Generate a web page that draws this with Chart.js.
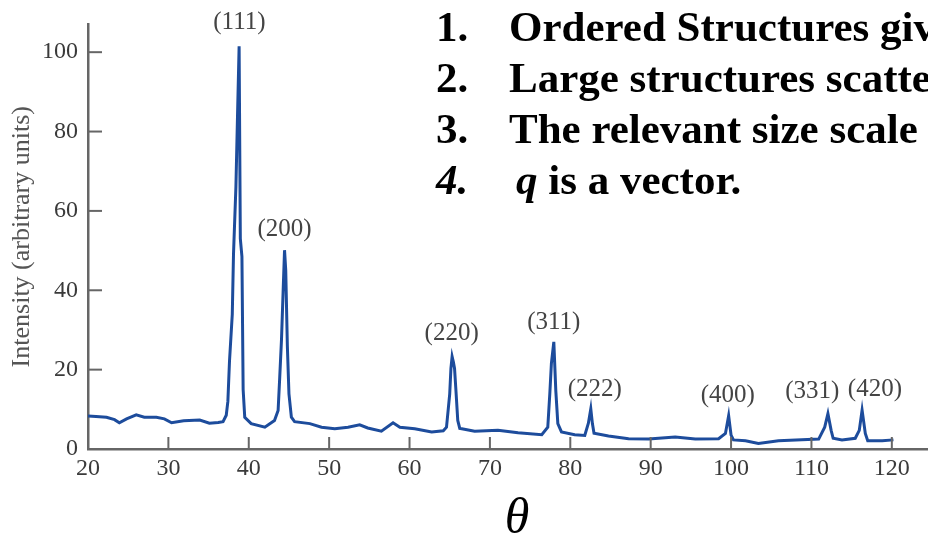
<!DOCTYPE html>
<html>
<head>
<meta charset="utf-8">
<script src="https://cdn.jsdelivr.net/npm/chart.js@4.4.1/dist/chart.umd.min.js"></script>
<style>
  html, body { margin: 0; padding: 0; background: #fff; }
  #wrap { position: relative; width: 928px; height: 536px; overflow: hidden; }
  #c { position: absolute; left: 0; top: 0; }
  #notes { position: absolute; left: 0; top: 1px; width: 928px; font: bold 43px "Liberation Serif", "Times New Roman", serif; color: #000; line-height: 51px; }
  #notes .ln { position: relative; height: 51px; white-space: nowrap; }
  #notes .num { position: absolute; left: 436px; }
  #notes .txt { position: absolute; left: 509px; }
  #theta { position: absolute; left: 467px; top: 491px; width: 100px; text-align: center; font: italic 50px "Liberation Serif", "Times New Roman", serif; line-height: 50px; color: #000; }
</style>
</head>
<body>
<div id="wrap">
  <canvas id="c" width="928" height="536"></canvas>
  <div id="notes">
    <div class="ln"><span class="num">1.</span><span class="txt">Ordered Structures give</span></div>
    <div class="ln"><span class="num">2.</span><span class="txt">Large structures scatter</span></div>
    <div class="ln"><span class="num">3.</span><span class="txt">The relevant size scale is</span></div>
    <div class="ln"><span class="num"><i>4.</i></span><span class="txt" style="left:516px"><i>q</i> is a vector.</span></div>
  </div>
  <div id="theta">θ</div>
</div>
<script>
// diffraction pattern (2θ in degrees, intensity)
const angle = [
  20.0, 21.0, 22.3, 23.3, 23.9, 24.8, 26.0, 27.0, 28.5, 29.5,
  30.4, 31.9, 33.9, 35.1, 36.2, 36.8, 37.2, 37.4, 37.6, 37.95,
  38.1, 38.4, 38.6, 38.8, 38.95, 39.15, 39.3, 39.5, 40.3, 42.0,
  43.2, 43.65, 43.85, 44.07, 44.27, 44.45, 44.6, 44.8, 45.0, 45.3,
  45.7, 47.6, 49.05, 50.7, 52.35, 53.8, 54.8, 56.5, 57.95, 58.8,
  60.65, 62.75, 64.2, 64.6, 65.0, 65.15, 65.3, 65.45, 65.6, 65.75,
  66.0, 66.25, 66.5, 68.1, 71.0, 73.5, 76.45, 77.2, 77.45, 77.65,
  77.95, 78.2, 78.45, 78.9, 80.55, 81.8, 82.25, 82.55, 82.75, 82.95,
  84.75, 87.25, 89.75, 93.05, 95.55, 98.45, 99.3, 99.7, 100.0, 100.3,
  101.8, 103.4, 105.9, 108.8, 110.9, 111.65, 112.05, 112.45, 112.7, 113.8,
  115.45, 115.95, 116.3, 116.7, 117.0, 118.8, 120.2
];
const intensity = [
  8.3, 8.2, 8.0, 7.4, 6.6, 7.6, 8.6, 8.0, 8.0, 7.6,
  6.6, 7.1, 7.3, 6.5, 6.7, 6.9, 8.5, 12, 22, 34,
  49, 66, 84, 101.5, 53, 48.5, 15, 8, 6.4, 5.5,
  7.2, 9.7, 18, 27.5, 39.5, 50.1, 45, 26, 13.9, 8,
  6.9, 6.4, 5.5, 5.1, 5.5, 6.1, 5.3, 4.5, 6.6, 5.5,
  5.1, 4.3, 4.6, 5.5, 13.9, 20.3, 23.3, 22, 20.3, 15.5,
  7.2, 5.2, 5.1, 4.5, 4.7, 4.1, 3.6, 5.5, 13.9, 21.6,
  27, 14.6, 6.4, 4.3, 3.6, 3.4, 6.5, 10.1, 6.4, 4.0,
  3.3, 2.6, 2.5, 3.0, 2.5, 2.6, 3.9, 8.4, 3.5, 2.3,
  2.1, 1.4, 2.1, 2.3, 2.5, 5.5, 8.9, 4.7, 2.7, 2.3,
  2.7, 4.7, 9.8, 3.9, 2.1, 2.1, 2.3
];

// Miller index labels and where they sit (data units)
const peakNames = ['(111)', '(200)', '(220)', '(311)', '(222)', '(400)', '(331)', '(420)'];
const peakLabelX = [38.84, 44.45, 65.24, 77.95, 83.05, 99.6, 110.1, 117.9];
const peakLabelY = [107.5, 55.3, 29.0, 32.0, 15.1, 13.6, 14.4, 14.9];

const xTicks = [20, 30, 40, 50, 60, 70, 80, 90, 100, 110, 120];
const yTicks = [0, 20, 40, 60, 80, 100];

const axisColor = '#666';
const textColor = '#3a3a3a';
const serif = '"Liberation Serif", "Times New Roman", serif';

// ticks point into the plot, like the printed figure
const inwardTicks = {
  id: 'inwardTicks',
  afterDraw(chart) {
    const { ctx, chartArea, scales } = chart;
    ctx.save();
    ctx.strokeStyle = axisColor;
    ctx.lineWidth = 2;
    scales.x.ticks.forEach(t => {
      const px = scales.x.getPixelForValue(t.value);
      ctx.beginPath();
      ctx.moveTo(px, chartArea.bottom);
      ctx.lineTo(px, chartArea.bottom - 12);
      ctx.stroke();
    });
    scales.y.ticks.forEach(t => {
      const py = scales.y.getPixelForValue(t.value);
      ctx.beginPath();
      ctx.moveTo(chartArea.left, py);
      ctx.lineTo(chartArea.left + 14, py);
      ctx.stroke();
    });
    ctx.restore();
  }
};

const peakLabels = {
  id: 'peakLabels',
  afterDatasetsDraw(chart) {
    const { ctx, scales } = chart;
    ctx.save();
    ctx.font = '25px ' + serif;
    ctx.fillStyle = '#444';
    ctx.textAlign = 'center';
    ctx.textBaseline = 'middle';
    peakNames.forEach((name, i) => {
      ctx.fillText(name, scales.x.getPixelForValue(peakLabelX[i]), scales.y.getPixelForValue(peakLabelY[i]));
    });
    ctx.restore();
  }
};

new Chart(document.getElementById('c'), {
  type: 'scatter',
  data: {
    datasets: [{
      data: angle.map((a, i) => ({ x: a, y: intensity[i] })),
      showLine: true,
      borderColor: '#1d4c9c',
      borderWidth: 3,
      pointRadius: 0,
      tension: 0
    }]
  },
  options: {
    responsive: false,
    animation: false,
    devicePixelRatio: 1,
    layout: { padding: { top: 18, right: 0, bottom: 0, left: 0 } },
    plugins: { legend: { display: false }, tooltip: { enabled: false } },
    scales: {
      x: {
        type: 'linear',
        min: 20,
        max: 124.5,
        afterBuildTicks: s => { s.ticks = xTicks.map(v => ({ value: v })); },
        afterFit: s => { s.height = 87; },
        grid: { drawOnChartArea: false, drawTicks: false },
        border: { display: true, color: axisColor, width: 2.5 },
        ticks: { color: textColor, padding: 5, maxRotation: 0, font: { family: serif, size: 24 } }
      },
      y: {
        min: 0,
        max: 107,
        afterBuildTicks: s => { s.ticks = yTicks.map(v => ({ value: v })); },
        afterFit: s => { s.width = 88; },
        grid: { drawOnChartArea: false, drawTicks: false },
        border: { display: true, color: axisColor, width: 2.5 },
        ticks: { color: textColor, padding: 10, font: { family: serif, size: 24 } },
        title: {
          display: true,
          text: 'Intensity (arbitrary units)',
          color: '#555',
          padding: { top: 7, bottom: 0 },
          font: { family: serif, size: 26 }
        }
      }
    }
  },
  plugins: [inwardTicks, peakLabels]
});
</script>
</body>
</html>
